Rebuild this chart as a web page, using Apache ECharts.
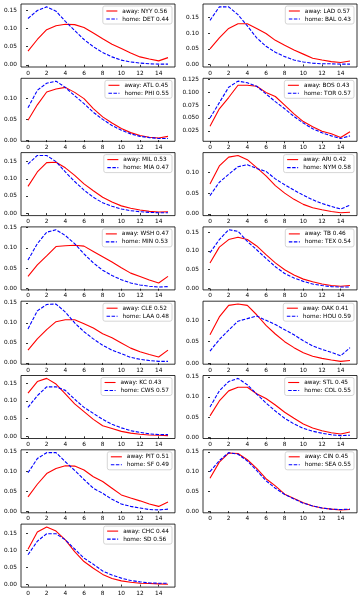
<!DOCTYPE html>
<html><head><meta charset="utf-8">
<script src="https://cdn.jsdelivr.net/npm/echarts@6/dist/echarts.min.js"></script>
<style>html,body{margin:0;padding:0;background:#fff}#c{width:362px;height:600px}</style>
</head><body><div id="c"></div>
<script>
const runs = [0,1,2,3,4,5,6,7,8,9,10,11,12,13,14,15];
const xTicks = [0,2,4,6,8,10,12,14];
const yTicks3 = ['0.00','0.05','0.10','0.15'];
const yTicks2 = ['0.00','0.05','0.10'];
const yTicksBOS = ['0.025','0.050','0.075','0.100','0.125'];

const NYY = [0.038,0.07,0.097,0.108,0.112,0.111,0.103,0.088,0.072,0.057,0.045,0.033,0.022,0.016,0.011,0.02];
const DET = [0.128,0.15,0.16,0.148,0.12,0.095,0.07,0.05,0.034,0.022,0.013,0.008,0.005,0.003,0.002,0.002];
const LAD = [0.05,0.085,0.115,0.13,0.13,0.115,0.099,0.077,0.061,0.046,0.033,0.02,0.014,0.009,0.006,0.011];
const BAL = [0.141,0.184,0.184,0.159,0.123,0.085,0.058,0.039,0.025,0.014,0.008,0.004,0.002,0.002,0.001,0.001];
const ATL = [0.048,0.085,0.116,0.123,0.127,0.115,0.1,0.076,0.056,0.041,0.028,0.018,0.011,0.007,0.005,0.009];
const PHI = [0.078,0.12,0.137,0.142,0.127,0.107,0.088,0.067,0.05,0.035,0.024,0.015,0.009,0.006,0.004,0.004];
const BOS = [0.034,0.068,0.09,0.114,0.114,0.112,0.1,0.092,0.075,0.058,0.043,0.033,0.024,0.019,0.012,0.023];
const TOR = [0.05,0.08,0.11,0.122,0.119,0.112,0.097,0.082,0.068,0.053,0.04,0.029,0.021,0.015,0.01,0.015];
const MIL = [0.078,0.12,0.147,0.148,0.132,0.11,0.085,0.065,0.046,0.032,0.021,0.014,0.009,0.005,0.003,0.004];
const MIA = [0.143,0.168,0.168,0.15,0.12,0.092,0.067,0.046,0.03,0.02,0.012,0.007,0.004,0.002,0.001,0.001];
const ARI = [0.072,0.115,0.136,0.14,0.13,0.111,0.091,0.068,0.05,0.035,0.023,0.015,0.01,0.006,0.003,0.004];
const NYM = [0.044,0.076,0.095,0.113,0.118,0.109,0.102,0.084,0.07,0.057,0.045,0.034,0.025,0.018,0.012,0.021];
const WSH = [0.03,0.058,0.08,0.103,0.105,0.106,0.104,0.091,0.078,0.065,0.051,0.038,0.03,0.021,0.014,0.03];
const MIN = [0.07,0.11,0.138,0.144,0.13,0.11,0.085,0.063,0.045,0.032,0.022,0.014,0.009,0.006,0.004,0.005];
const TB  = [0.068,0.11,0.13,0.136,0.13,0.113,0.09,0.068,0.05,0.036,0.025,0.018,0.012,0.008,0.006,0.008];
const TEX = [0.095,0.13,0.156,0.152,0.125,0.103,0.08,0.058,0.04,0.028,0.019,0.012,0.008,0.005,0.004,0.004];
const CLE = [0.032,0.06,0.083,0.103,0.108,0.108,0.098,0.087,0.073,0.063,0.05,0.037,0.028,0.021,0.015,0.032];
const LAA = [0.085,0.13,0.146,0.147,0.127,0.1,0.078,0.06,0.044,0.032,0.023,0.014,0.009,0.006,0.004,0.004];
const OAK = [0.066,0.108,0.135,0.138,0.135,0.113,0.088,0.068,0.05,0.036,0.024,0.016,0.011,0.007,0.004,0.006];
const HOU = [0.028,0.055,0.077,0.098,0.104,0.11,0.1,0.09,0.078,0.066,0.052,0.04,0.032,0.025,0.017,0.036];
const KC  = [0.122,0.155,0.164,0.148,0.12,0.092,0.07,0.048,0.03,0.022,0.014,0.009,0.006,0.004,0.003,0.002];
const CWS = [0.082,0.115,0.14,0.14,0.13,0.105,0.082,0.065,0.048,0.034,0.024,0.016,0.011,0.007,0.005,0.005];
const STL = [0.053,0.09,0.115,0.124,0.124,0.108,0.096,0.08,0.062,0.047,0.033,0.023,0.016,0.011,0.008,0.013];
const COL = [0.075,0.115,0.138,0.146,0.13,0.107,0.085,0.065,0.047,0.033,0.022,0.015,0.01,0.006,0.004,0.005];
const PIT = [0.036,0.068,0.095,0.108,0.115,0.114,0.104,0.087,0.075,0.058,0.041,0.033,0.026,0.018,0.012,0.023];
const SF  = [0.097,0.133,0.148,0.148,0.125,0.103,0.08,0.058,0.045,0.03,0.018,0.012,0.008,0.004,0.003,0.005];
const CIN = [0.083,0.124,0.147,0.146,0.13,0.108,0.082,0.064,0.043,0.032,0.021,0.013,0.008,0.005,0.003,0.004];
const SEA = [0.1,0.128,0.148,0.144,0.127,0.103,0.077,0.058,0.042,0.031,0.02,0.013,0.008,0.005,0.004,0.005];
const CHC = [0.104,0.155,0.17,0.158,0.132,0.097,0.068,0.048,0.03,0.018,0.011,0.007,0.004,0.003,0.002,0.001];
const SD  = [0.088,0.128,0.15,0.15,0.132,0.105,0.078,0.06,0.04,0.028,0.019,0.012,0.008,0.005,0.004,0.004];

const panels = [
  {away:'away: NYY 0.56', home:'home: DET 0.44', a:NYY, h:DET, ticks:yTicks3},
  {away:'away: LAD 0.57', home:'home: BAL 0.43', a:LAD, h:BAL, ticks:yTicks3},
  {away:'away: ATL 0.45', home:'home: PHI 0.55', a:ATL, h:PHI, ticks:yTicks2},
  {away:'away: BOS 0.43', home:'home: TOR 0.57', a:BOS, h:TOR, ticks:yTicksBOS},
  {away:'away: MIL 0.53', home:'home: MIA 0.47', a:MIL, h:MIA, ticks:yTicks3},
  {away:'away: ARI 0.42', home:'home: NYM 0.58', a:ARI, h:NYM, ticks:yTicks2},
  {away:'away: WSH 0.47', home:'home: MIN 0.53', a:WSH, h:MIN, ticks:yTicks3},
  {away:'away: TB 0.46',  home:'home: TEX 0.54', a:TB,  h:TEX, ticks:yTicks3},
  {away:'away: CLE 0.52', home:'home: LAA 0.48', a:CLE, h:LAA, ticks:yTicks3},
  {away:'away: OAK 0.41', home:'home: HOU 0.59', a:OAK, h:HOU, ticks:yTicks2},
  {away:'away: KC 0.43',  home:'home: CWS 0.57', a:KC,  h:CWS, ticks:yTicks3},
  {away:'away: STL 0.45', home:'home: COL 0.55', a:STL, h:COL, ticks:yTicks3},
  {away:'away: PIT 0.51', home:'home: SF 0.49',  a:PIT, h:SF,  ticks:yTicks3},
  {away:'away: CIN 0.45', home:'home: SEA 0.55', a:CIN, h:SEA, ticks:yTicks3},
  {away:'away: CHC 0.44', home:'home: SD 0.56',  a:CHC, h:SD,  ticks:yTicks3}
];

const FONT = 'DejaVu Sans';
const grid = [], xAxis = [], yAxis = [], series = [], legend = [];
panels.forEach((p, k) => {
  const row = Math.floor(k / 2), col = k % 2;
  const left = col ? 203 : 21, top = 4 + row * 74.3, W = 154, H = 63;
  grid.push({left: left, top: top, width: W, height: H, show: true,
    borderColor: '#000', borderWidth: 0.8, backgroundColor: '#fff'});
  xAxis.push({type: 'value', gridIndex: k, min: -0.75, max: 15.75,
    splitLine: {show: false}, axisLine: {show: false},
    axisTick: {show: true, length: 2, lineStyle: {color: '#000', width: 0.8}, customValues: xTicks},
    axisLabel: {customValues: xTicks, fontSize: 5.8, fontFamily: FONT, color: '#000', margin: 3}});
  const all = p.a.concat(p.h);
  const lo = Math.min(...all), hi = Math.max(...all), pad = 0.05 * (hi - lo);
  const tv = p.ticks.map(Number);
  yAxis.push({type: 'value', gridIndex: k, min: lo - pad, max: hi + pad,
    splitLine: {show: false}, axisLine: {show: false},
    axisTick: {show: true, length: 2, lineStyle: {color: '#000', width: 0.8}, customValues: tv},
    axisLabel: {customValues: tv, fontSize: 5.8, fontFamily: FONT, color: '#000', margin: 4,
      formatter: v => { const i = tv.findIndex(t => Math.abs(t - v) < 1e-9); return i >= 0 ? p.ticks[i] : ''; }}});
  series.push({name: p.away, type: 'line', xAxisIndex: k, yAxisIndex: k, symbol: 'none',
    data: runs.map((r, i) => [r, p.a[i]]), lineStyle: {color: '#ff0000', width: 1.1}, itemStyle: {color: '#ff0000'}});
  series.push({name: p.home, type: 'line', xAxisIndex: k, yAxisIndex: k, symbol: 'none',
    data: runs.map((r, i) => [r, p.h[i]]), lineStyle: {color: '#0000ff', width: 1.1, type: [3.5, 1.5]}, itemStyle: {color: '#0000ff'}});
  legend.push({data: [p.away, p.home], orient: 'vertical', selectedMode: false,
    right: 362 - (left + W) + 3, top: top + 2,
    itemWidth: 11, itemHeight: 6, itemGap: 2, padding: [2, 3, 2, 3],
    itemStyle: {opacity: 0, borderWidth: 0},
    lineStyle: {width: 1.1},
    backgroundColor: 'rgba(255,255,255,0.8)', borderColor: '#cccccc', borderWidth: 0.8, borderRadius: 2,
    textStyle: {fontSize: 5.8, fontFamily: FONT, color: '#000', lineHeight: 6}});
});

const chart = echarts.init(document.getElementById('c'), null, {renderer: 'canvas'});
chart.setOption({animation: false, backgroundColor: '#fff', grid, xAxis, yAxis, series, legend});
</script></body></html>
